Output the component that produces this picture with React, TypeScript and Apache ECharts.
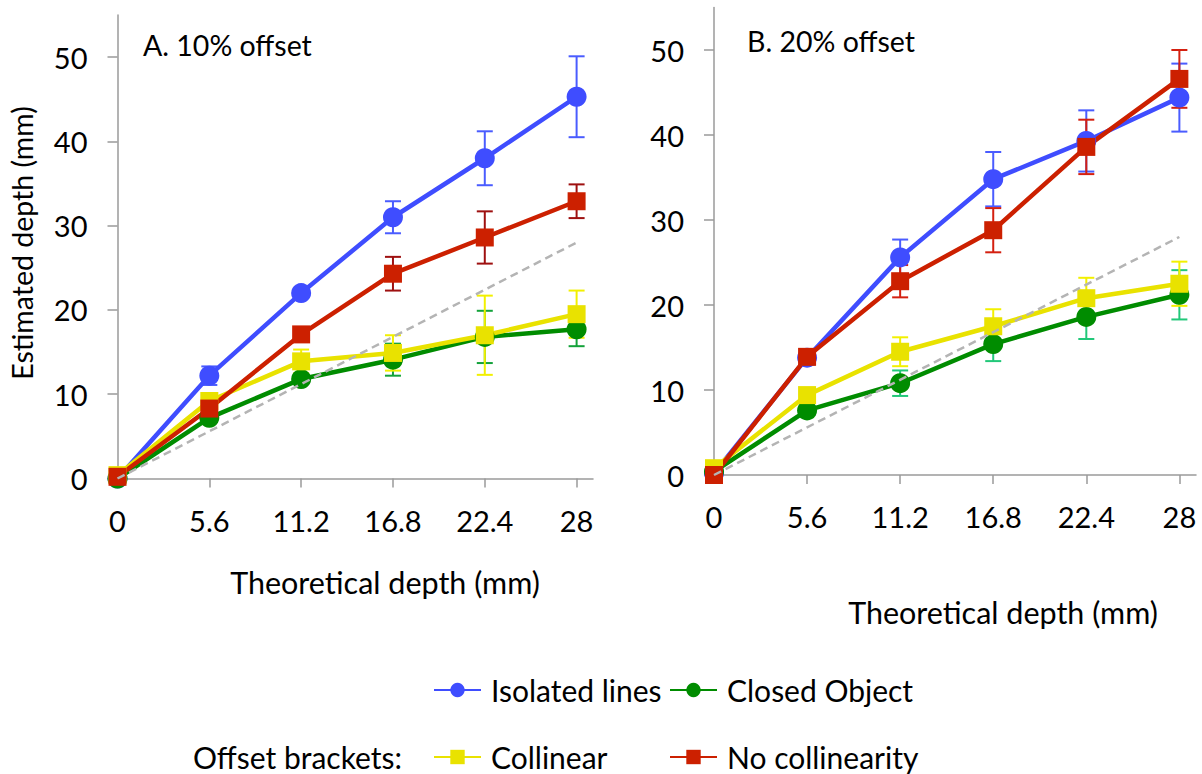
import React, { useEffect, useRef } from "react";
import * as echarts from "echarts";

// Theoretical depth positions (mm)
const depths = [0, 5.6, 11.2, 16.8, 22.4, 28];
const yTicks = [0, 10, 20, 30, 40, 50];

// Panel A: 10% offset — mean estimated depth and error half-widths (mm)
const isolatedA = [0, 12.2, 22.0, 31.0, 38.0, 45.3];
const isolatedErrA = [0, 1.1, 0.5, 1.9, 3.2, 4.8];
const closedA = [0, 7.2, 11.8, 14.1, 16.8, 17.7];
const closedErrA = [0, 0.4, 0.5, 1.9, 3.1, 2.0];
const collinearA = [0.4, 9.2, 13.9, 14.9, 17.0, 19.5];
const collinearErrA = [0, 0.6, 1.4, 2.1, 4.7, 2.8];
const noCollinearA = [0.2, 8.3, 17.1, 24.3, 28.6, 32.9];
const noCollinearErrA = [0, 0.6, 0.5, 2.0, 3.1, 2.0];

// Panel B: 20% offset
const isolatedB = [0.2, 13.8, 25.6, 34.8, 39.3, 44.4];
const isolatedErrB = [0, 0.8, 2.1, 3.2, 3.6, 4.0];
const closedB = [0.4, 7.6, 10.8, 15.4, 18.6, 21.2];
const closedErrB = [0, 0.5, 1.5, 2.0, 2.6, 2.9];
const collinearB = [0.8, 9.4, 14.5, 17.5, 20.8, 22.5];
const collinearErrB = [0, 0.6, 1.7, 2.0, 2.4, 2.6];
const noCollinearB = [0, 13.9, 22.8, 28.8, 38.6, 46.6];
const noCollinearErrB = [0, 0.8, 1.9, 2.6, 3.2, 3.4];

// Identity reference (estimated = theoretical)
const identity = [0, 28];

const FONT = "Lato, 'Open Sans', sans-serif";
const BLUE = "#3f4dff";
const GREEN = "#008c00";
const YELLOW = "#e9e200";
const RED = "#cc2000";

function points(vals: number[]) {
  return vals.map((v, i) => [depths[i], v]);
}

function errRows(vals: number[], errs: number[]) {
  return vals.map((v, i) => [depths[i], v - errs[i], v + errs[i]]);
}

function lineSeries(name: string, vals: number[], color: string, symbol: string, size: number, grid: number) {
  return {
    type: "line",
    name,
    xAxisIndex: grid,
    yAxisIndex: grid,
    data: points(vals),
    symbol,
    symbolSize: size,
    showSymbol: true,
    lineStyle: { color, width: 4.5 },
    itemStyle: { color, opacity: 1 },
    emphasis: { disabled: true },
    z: 3,
  };
}

function errorSeries(vals: number[], errs: number[], color: string, grid: number) {
  return {
    type: "custom",
    xAxisIndex: grid,
    yAxisIndex: grid,
    data: errRows(vals, errs),
    encode: { x: 0, y: [1, 2] },
    z: 3,
    silent: true,
    renderItem: (_params: any, api: any) => {
      const x = api.value(0);
      const lo = api.coord([x, api.value(1)]);
      const hi = api.coord([x, api.value(2)]);
      const half = 8;
      const style = { stroke: color, lineWidth: 2 };
      return {
        type: "group",
        children: [
          { type: "line", shape: { x1: hi[0], y1: hi[1], x2: lo[0], y2: lo[1] }, style },
          { type: "line", shape: { x1: hi[0] - half, y1: hi[1], x2: hi[0] + half, y2: hi[1] }, style },
          { type: "line", shape: { x1: lo[0] - half, y1: lo[1], x2: lo[0] + half, y2: lo[1] }, style },
        ],
      };
    },
  };
}

function identitySeries(grid: number) {
  return {
    type: "line",
    xAxisIndex: grid,
    yAxisIndex: grid,
    data: identity.map((v) => [v, v]),
    symbol: "none",
    lineStyle: { color: "#b4b4b4", width: 2.5, type: [8, 5] },
    silent: true,
    z: 5,
  };
}

function xAxis(grid: number) {
  return {
    type: "value",
    gridIndex: grid,
    min: 0,
    max: 29,
    axisLine: { show: true, lineStyle: { color: "#9a9a9a", width: 1.5 } },
    axisTick: { show: true, length: 9, lineStyle: { color: "#9a9a9a", width: 1.5 }, customValues: depths },
    axisLabel: {
      customValues: depths,
      margin: 27,
      fontSize: 29,
      color: "#000",
      fontFamily: FONT,
      formatter: (v: number) => String(v),
    },
    splitLine: { show: false },
  };
}

function yAxis(grid: number) {
  return {
    type: "value",
    gridIndex: grid,
    min: 0,
    max: 55,
    axisLine: { show: true, lineStyle: { color: "#9a9a9a", width: 1.5 } },
    axisTick: { show: true, length: 10, lineStyle: { color: "#9a9a9a", width: 1.5 }, customValues: yTicks },
    axisLabel: {
      customValues: yTicks,
      margin: 30,
      fontSize: 29,
      color: "#000",
      fontFamily: FONT,
    },
    splitLine: { show: false },
  };
}

function legendAt(name: string, left: number, top: number) {
  return {
    data: [name],
    left,
    top,
    padding: 0,
    orient: "horizontal",
    itemWidth: 47,
    itemHeight: 18,
    itemGap: 0,
    selectedMode: false,
    textStyle: { fontSize: 30, lineHeight: 30, color: "#000", fontFamily: FONT, padding: [0, 0, 0, 5] },
  };
}

export default function App() {
  const ref = useRef<HTMLDivElement>(null);

  useEffect(() => {
    if (!ref.current) return;
    const chart = echarts.init(ref.current, undefined, { renderer: "svg" });
    const text = (t: string, x: number, y: number, size: number, extra: any = {}) => ({
      type: "text",
      x,
      y,
      style: {
        text: t,
        fontSize: size,
        fontFamily: FONT,
        fill: "#000",
        textAlign: "left",
        textVerticalAlign: "middle",
        ...extra,
      },
    });
    chart.setOption({
      animation: false,
      backgroundColor: "#fff",
      grid: [
        { left: 117.5, top: 15, width: 475.5, height: 463.5 },
        { left: 714, top: 7.5, width: 482, height: 467.5 },
      ],
      xAxis: [xAxis(0), xAxis(1)],
      yAxis: [yAxis(0), yAxis(1)],
      legend: [
        legendAt("Isolated lines", 433, 675),
        legendAt("Closed Object", 669, 675),
        legendAt("Collinear", 433, 742),
        legendAt("No collinearity", 669, 742),
      ],
      graphic: [
        text("A. 10% offset", 143, 45, 28.5),
        text("B. 20% offset", 747, 41, 28.5),
        text("Theoretical depth (mm)", 385, 582, 30.5, { textAlign: "center" }),
        text("Theoretical depth (mm)", 1003, 612, 30.5, { textAlign: "center" }),
        {
          type: "text",
          x: 22,
          y: 243,
          rotation: Math.PI / 2,
          style: {
            text: "Estimated depth (mm)",
            fontSize: 28.5,
            fontFamily: FONT,
            fill: "#000",
            textAlign: "center",
            textVerticalAlign: "middle",
          },
        },
        text("Offset brackets:", 402, 757, 30, { textAlign: "right" }),
      ],
      series: [
        lineSeries("Isolated lines", isolatedA, BLUE, "circle", 20, 0),
        errorSeries(isolatedA, isolatedErrA, "#4a5cff", 0),
        lineSeries("Closed Object", closedA, GREEN, "circle", 20, 0),
        errorSeries(closedA, closedErrA, "#13a23a", 0),
        lineSeries("Collinear", collinearA, YELLOW, "rect", 18, 0),
        errorSeries(collinearA, collinearErrA, "#f2f000", 0),
        lineSeries("No collinearity", noCollinearA, RED, "rect", 18, 0),
        errorSeries(noCollinearA, noCollinearErrA, "#9e1010", 0),
        identitySeries(0),

        lineSeries("Isolated lines", isolatedB, BLUE, "circle", 20, 1),
        errorSeries(isolatedB, isolatedErrB, "#4a5cff", 1),
        lineSeries("Closed Object", closedB, GREEN, "circle", 20, 1),
        errorSeries(closedB, closedErrB, "#22c879", 1),
        lineSeries("Collinear", collinearB, YELLOW, "rect", 18, 1),
        errorSeries(collinearB, collinearErrB, "#f2f000", 1),
        lineSeries("No collinearity", noCollinearB, RED, "rect", 18, 1),
        errorSeries(noCollinearB, noCollinearErrB, "#d42010", 1),
        identitySeries(1),
      ],
    });
    return () => chart.dispose();
  }, []);

  return (
    <div
      ref={ref}
      style={{ position: "absolute", left: 0, top: 0, width: 1202, height: 774 }}
    />
  );
}
